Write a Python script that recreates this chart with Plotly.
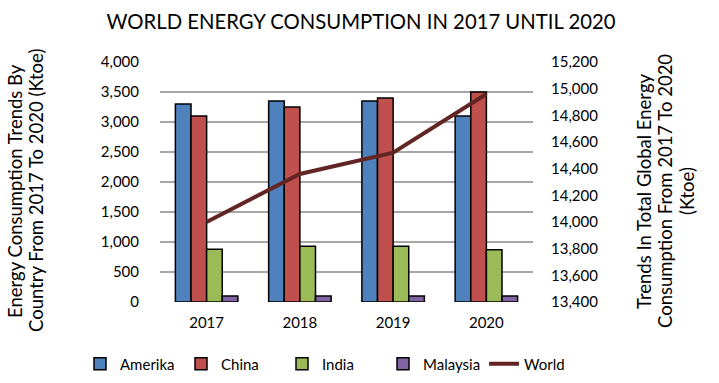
import plotly.graph_objects as go

years = ["2017", "2018", "2019", "2020"]
amerika = [3300, 3350, 3350, 3100]
china = [3100, 3250, 3400, 3500]
india = [880, 930, 930, 870]
malaysia = [100, 100, 100, 100]
world = [14000, 14360, 14520, 14960]

left_ticks = list(range(0, 4001, 500))
right_ticks = list(range(13400, 15201, 200))

FONT = "Lato"
fig = go.Figure()
colors = {"Amerika": "#4F81BD", "China": "#C0504D", "India": "#9BBB59", "Malaysia": "#8064A2"}
for name, vals in [("Amerika", amerika), ("China", china), ("India", india), ("Malaysia", malaysia)]:
    fig.add_trace(go.Bar(x=years, y=vals, name=name,
                         marker=dict(color=colors[name], line=dict(color="black", width=1.5))))
fig.add_trace(go.Scatter(x=years, y=world, name="World", mode="lines",
                         line=dict(color="#632523", width=4), yaxis="y2"))

L, R, T, B = 160, 186, 61, 81
W, H = 719, 383
pw, ph = W - L - R, H - T - B

def px(x):
    return (x - L) / pw

def py(y):
    return (H - B - y) / ph

ann = []
tsize = 18.5
for text, xc in [("Energy Consumption Trends By", 15), ("Country From 2017 To 2020 (Ktoe)", 36)]:
    ann.append(dict(text=text, x=px(xc), y=py(191), xref="paper", yref="paper", textangle=-90,
                    showarrow=False, xanchor="center", yanchor="middle", font=dict(size=tsize)))
for text, xc in [("Trends In Total Global Energy", 644), ("Consumption From 2017 To 2020", 665), ("(Ktoe)", 687)]:
    ann.append(dict(text=text, x=px(xc), y=py(191), xref="paper", yref="paper", textangle=-90,
                    showarrow=False, xanchor="center", yanchor="middle", font=dict(size=tsize)))

pad = 4000 * 1.0 / 240  # a pixel of headroom so the top gridline is drawn
fig.update_layout(
    width=W, height=H,
    paper_bgcolor="white", plot_bgcolor="white",
    margin=dict(l=L, r=R, t=T, b=B, autoexpand=False),
    barmode="group", bargap=0.33, bargroupgap=0,
    font=dict(family=FONT, size=15, color="black"),
    title=dict(text="WORLD ENERGY CONSUMPTION IN 2017 UNTIL 2020", x=361 / W, xanchor="center",
               y=1 - 22 / H, yanchor="middle", font=dict(size=20.3, family=FONT)),
    xaxis=dict(showgrid=False, showline=False, ticks="", tickfont=dict(size=15), automargin=False,
               ticklabelstandoff=10),
    yaxis=dict(range=[0, 4000 + pad], tickvals=left_ticks, tickformat=",", showgrid=True,
               gridcolor="#A6A6A6", gridwidth=2, zeroline=False, showline=False, ticks="",
               ticklabelstandoff=20, automargin=False),
    yaxis2=dict(range=[13400, 15200 + pad * 1800 / 4000], tickvals=right_ticks, tickformat=",",
                overlaying="y", side="right", showgrid=False, zeroline=False, showline=False, ticks="",
                ticklabelstandoff=17, automargin=False),
    legend=dict(orientation="h", x=px(80), xanchor="left", y=py(364), yanchor="middle",
                font=dict(size=15), itemwidth=30, entrywidth=56, traceorder="normal"),
    annotations=ann,
)
fig.write_html("out.html", config={"displayModeBar": False},
               post_script="document.body.style.margin='0';")
